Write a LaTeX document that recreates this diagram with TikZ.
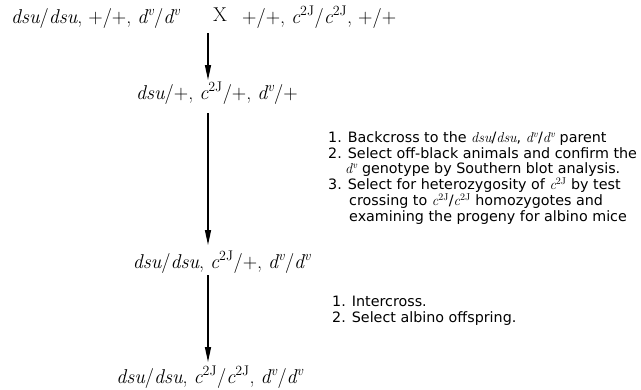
\documentclass[tikz,border=0pt]{standalone}
\usepackage{fontspec}
\setsansfont{DejaVu Sans}
\usetikzlibrary{arrows.meta}

\tikzset{
  geno/.style={anchor=base, inner sep=0pt, font=\fontsize{20}{24}\selectfont},
  steps/.style={anchor=base west, inner sep=0pt, align=left,
    font=\sffamily\fontsize{14.3}{15.7}\selectfont},
  cross/.style={-{Triangle[length=15pt,width=6pt]}, line width=1.3pt},
}
\newcommand{\dsu}{{\rmfamily\itshape dsu}}
\newcommand{\cJ}{{\rmfamily\itshape c}\textsuperscript{\rmfamily 2J}}
\newcommand{\dv}{{\rmfamily\itshape d}\textsuperscript{\rmfamily\itshape v}}

\begin{document}
\begin{tikzpicture}[x=1pt, y=-1pt]
  \useasboundingbox (0,0) rectangle (641,389);

  % PARENTS
  \node[geno, anchor=base west] (p1) at (11,23) {\dsu/\dsu, +/+, \dv/\dv};
  \node[geno, anchor=base west] (x) at (213,21) {X};
  \node[geno, anchor=base west] (p2) at (242,23) {+/+, \cJ/\cJ, +/+};

  % GENERATIONS
  \node[geno] (f1) at (217,99) {\dsu/+, \cJ/+, \dv/+};
  \node[geno] (n2) at (222,268) {\dsu/\dsu, \cJ/+, \dv/\dv};
  \node[geno] (n3) at (210,383) {\dsu/\dsu, \cJ/\cJ, \dv/\dv};

  % ARROWS
  \coordinate (col) at (208,0);
  \draw[cross] ([yshift=-10pt]p1.base -| col) -- ([yshift=19pt]f1.base -| col);
  \draw[cross] ([yshift=-14pt]f1.base -| col) -- ([yshift=23pt]n2.base -| col);
  \draw[cross] ([yshift=-7pt]n2.base -| col) -- ([yshift=21pt]n3.base -| col);

  % STEPS (base = last line)
  \node[steps] (s1) at (328,221) {%
    1. Backcross to the \dsu/\dsu, \dv/\dv\ parent\\
    2. Select off-black animals and confirm the\\
    \hspace*{17pt}\dv\ genotype by Southern blot analysis.\\
    3. Select for heterozygosity of \cJ\ by test\\
    \hspace*{21pt}crossing to \cJ/\cJ\ homozygotes and\\
    \hspace*{21pt}examining the progeny for albino mice};
  \node[steps] (s2) at (332,322) {%
    1. Intercross.\\
    2. Select albino offspring.};
\end{tikzpicture}
\end{document}
